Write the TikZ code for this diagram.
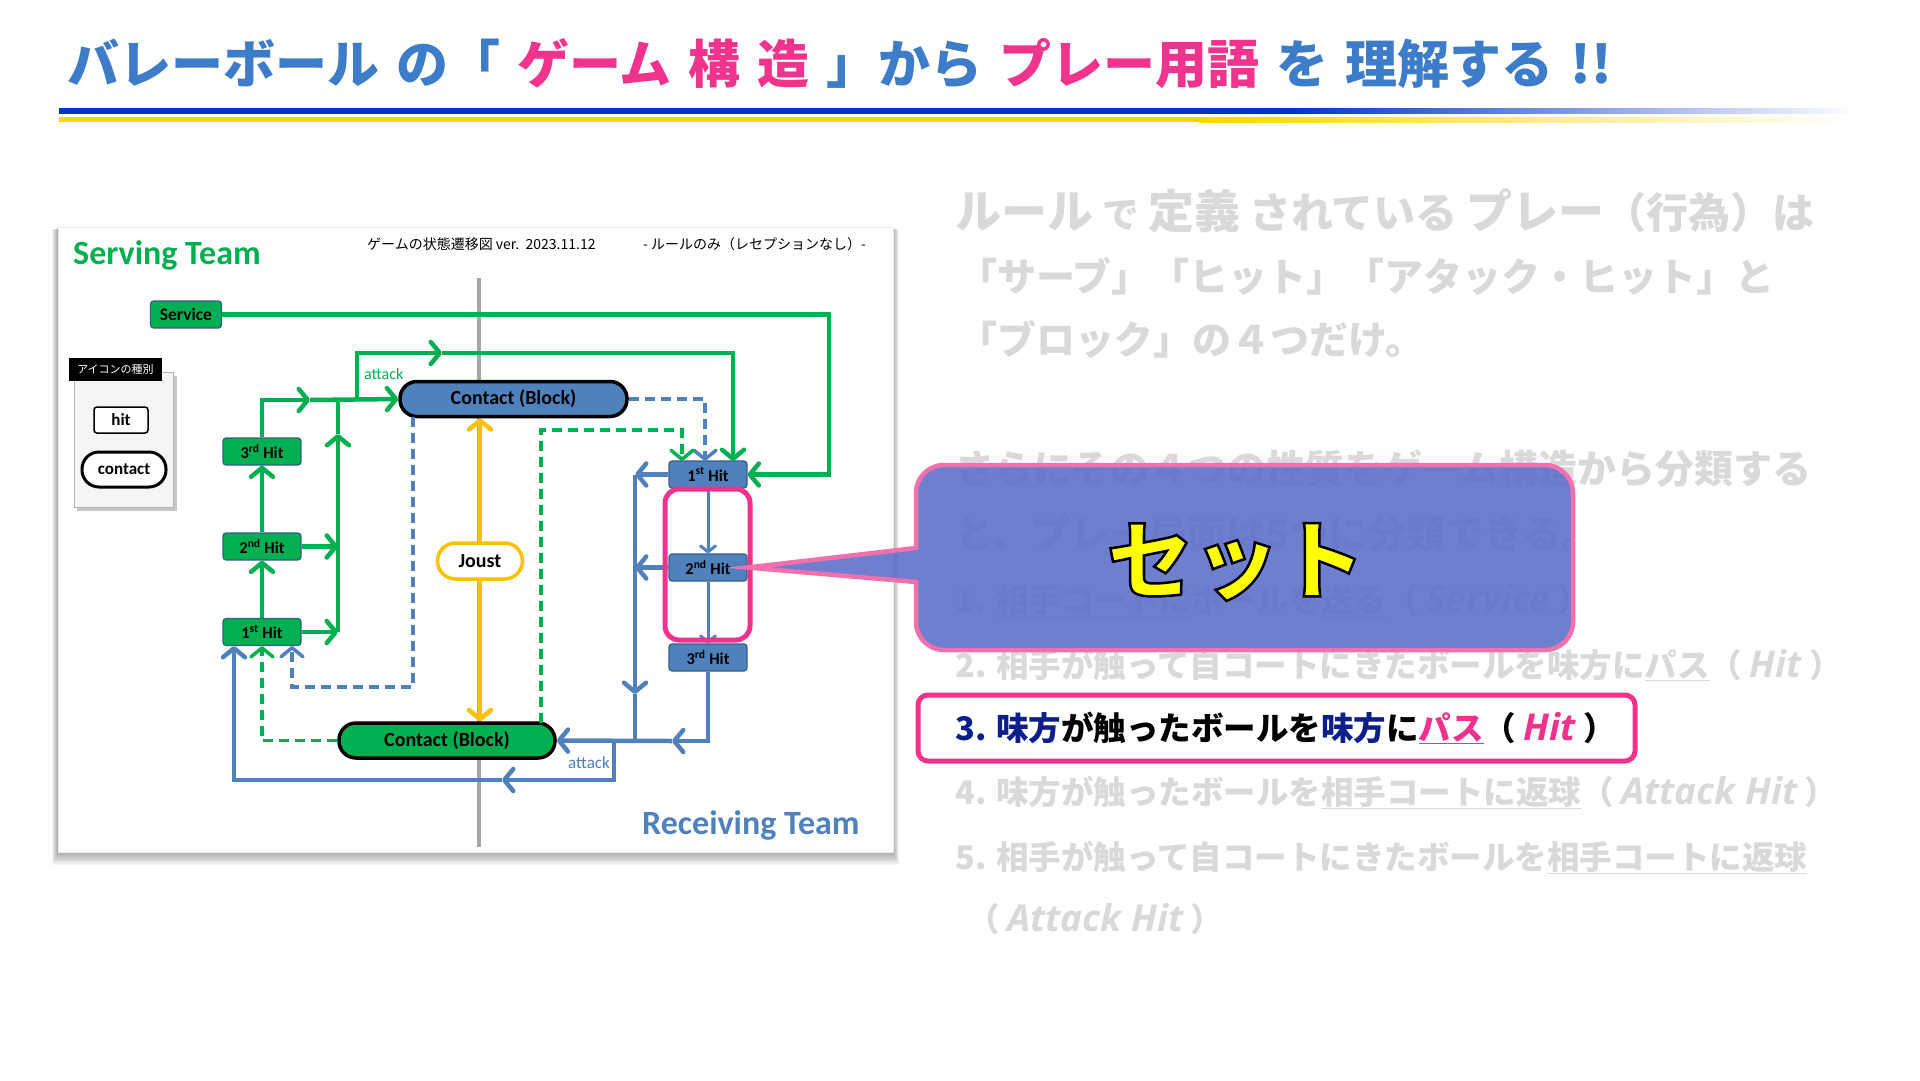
\documentclass[tikz,border=0pt]{standalone}
\usepackage{fontspec}
\usetikzlibrary{arrows.meta,calc}
\setmainfont{Carlito}
\newfontfamily\jpfont{Noto Sans CJK JP}
\newfontfamily\calfont{Carlito}
\newfontfamily\itfont{Open Sans}
\newcommand{\fsz}[1]{\fontsize{#1}{#1}\selectfont}
\newcommand{\lat}[1]{{\itfont\bfseries\itshape\fsz{37}#1}}
\definecolor{tblue}{RGB}{61,124,201}
\definecolor{tpink}{RGB}{240,51,140}
\definecolor{lblue}{RGB}{0,51,204}
\definecolor{lyel}{RGB}{255,214,0}
\definecolor{dgreen}{RGB}{0,176,80}
\definecolor{dblue}{RGB}{79,129,189}
\definecolor{dorange}{RGB}{255,192,0}
\definecolor{nodeb}{RGB}{56,93,138}
\definecolor{netgray}{RGB}{166,166,166}
\definecolor{txtgray}{RGB}{217,217,217}
\definecolor{cblue}{RGB}{88,106,200}
\definecolor{cpink}{RGB}{242,112,172}
\definecolor{hpink}{RGB}{240,50,140}
\definecolor{navy}{RGB}{10,30,140}
\definecolor{setyel}{RGB}{255,255,0}
\begin{document}
\begin{tikzpicture}[x=1pt,y=-1pt,
  >={Straight Barb[length=9pt,width=22pt,round]},
  gl/.style={draw=dgreen,line width=4.5pt},
  bl/.style={draw=dblue,line width=4.5pt},
  gdash/.style={draw=dgreen,line width=3.5pt,dash pattern=on 10pt off 6pt},
  bdash/.style={draw=dblue,line width=3.5pt,dash pattern=on 10pt off 6pt},
  bls/.style={draw=dblue,line width=3pt,>={Straight Barb[length=6pt,width=15pt,round]}},
  oline/.style={draw=dorange,line width=4.5pt},
  hitbox/.style={draw=nodeb,line width=1.2pt,rounded corners=3pt,minimum width=78pt,minimum height=27pt,inner sep=0pt,font=\calfont\bfseries\fsz{16.5}},
  hitg/.style={hitbox,fill=dgreen},
  hitb/.style={hitbox,fill=dblue},
  pill/.style={draw=black,line width=3.5pt,rounded corners=17pt,minimum height=35pt,inner sep=0pt,font=\calfont\bfseries\fsz{20}},
  gtxt/.style={anchor=base west,inner sep=0pt,text=txtgray,font=\jpfont\bfseries\fsz{32.5}},
]
\useasboundingbox (0,0) rectangle (1920,1080);
\fill[white] (0,0) rectangle (1920,1080);

% ---------- title ----------
\node[anchor=base west,inner sep=0pt,font=\jpfont\bfseries\fsz{52}] (title) at (67,83)
 {{\color{tblue}バレーボール\hspace{17pt}の「}\hspace{17pt}{\color{tpink}ゲーム\hspace{17pt}構\hspace{17pt}造}\hspace{17pt}{\color{tblue}」から}\hspace{17pt}{\color{tpink}プレー用語}\hspace{17pt}{\color{tblue}を\hspace{17pt}理解する\hspace{17pt}!!}};
\fill[lblue] (59,108) rectangle (1290,113.5);
\shade[left color=lblue,right color=white] (1289,108) rectangle (1855,113.5);
\fill[lyel] (59,117) rectangle (1200,122);
\shade[left color=lyel,right color=white] (1199,117) rectangle (1855,122);

% ---------- panel ----------
\foreach \i in {1,...,10}{
  \fill[black,opacity=0.035] ($(58,227)+(-\i*0.6,\i*0.3)$) rectangle ($(893,852)+(\i*0.6,\i*1.3)$);
}
\fill[white] (58,227) rectangle (893,852);
\draw[black!8,line width=0.8pt] (58,227) rectangle (893,852);

\coordinate (net1) at (479,278);
\coordinate (net2) at (479,847);
\draw[netgray,line width=4pt] (net1) -- (net2);

\node[anchor=base west,inner sep=0pt,text=dgreen,font=\calfont\bfseries\fsz{34}] (serving) at (73,264) {Serving Team};
\node[anchor=base west,inner sep=0pt,text=dblue,font=\calfont\bfseries\fsz{34}] (receiving) at (642,834) {Receiving Team};
\node[anchor=west,inner sep=0pt,font=\jpfont\fsz{14}] (hdr1) at (367,244) {ゲームの状態遷移図 ver.\ \ 2023.11.12};
\node[anchor=west,inner sep=0pt,font=\jpfont\fsz{14}] (hdr2) at (643,244) {- ルールのみ（レセプションなし）-};

% legend
\fill[black!22] (77,376) rectangle (177,511);
\draw[fill=black!4,draw=black!30,line width=1pt] (74,372) rectangle (173,507);
\node[fill=black,text=white,inner sep=0pt,minimum width=93pt,minimum height=23pt,font=\jpfont\fsz{11}] (lgl) at (115.5,369.5) {アイコンの種別};
\node[draw=black,line width=1.5pt,fill=white,rounded corners=3pt,minimum width=54pt,minimum height=26pt,inner sep=0pt,font=\calfont\bfseries\fsz{17}] (lh) at (121,420) {hit};
\node[draw=black,line width=3pt,fill=white,rounded corners=17pt,minimum width=84pt,minimum height=35pt,inner sep=0pt,font=\calfont\bfseries\fsz{17}] (lc) at (124,469.5) {contact};

% nodes
\node[hitg,minimum width=71pt,font=\calfont\bfseries\fsz{17.5}] (svc) at (186,314.5) {Service};
\node[hitg] (L3) at (262,451.5) {3\textsuperscript{rd} Hit};
\node[hitg] (L2) at (262,546.5) {2\textsuperscript{nd} Hit};
\node[hitg] (L1) at (262,632) {1\textsuperscript{st} Hit};
\node[hitb] (R1) at (708,474.5) {1\textsuperscript{st} Hit};
\node[hitb] (R2) at (708,567.5) {2\textsuperscript{nd} Hit};
\node[hitb] (R3) at (708,657.5) {3\textsuperscript{rd} Hit};
\node[pill,fill=dblue,minimum width=227pt] (CT) at (513.5,399) {Contact (Block)};
\node[pill,fill=dgreen,minimum width=216pt] (CB) at (447,740.5) {Contact (Block)};
\node[draw=dorange,line width=3.5pt,fill=white,rounded corners=18pt,minimum width=85pt,minimum height=36pt,inner sep=0pt,font=\calfont\bfseries\fsz{20}] (J) at (480,561) {Joust};

% coordinates
\coordinate (s2) at (829,474.5);
\coordinate (c4) at (262,400);
\coordinate (m4) at (310,400);
\coordinate (j1) at (338,400);
\coordinate (j1b) at (338,632);
\coordinate (m6) at (338,434);
\coordinate (a0) at (357,400);
\coordinate (a1) at (357,353);
\coordinate (ma) at (442,353);
\coordinate (a3) at (733,461);
\coordinate (b3) at (705,461);
\coordinate (g0) at (541,723);
\coordinate (g1) at (682,430);
\coordinate (g2) at (682,461);
\coordinate (d0) at (413,417);
\coordinate (d1) at (292,687);
\coordinate (d2) at (292,646);
\coordinate (r1) at (635,474.5);
\coordinate (mr) at (635,694);
\coordinate (r4) at (635,741);
\coordinate (m16) at (672,741);
\coordinate (t0) at (614,741);
\coordinate (mt) at (502,780);
\coordinate (t2) at (234,646);

% green connectors
\draw[gl,->] (svc.east) -| (s2) -- (R1.east);
\draw[gl,->] (L1.north) -- (L2.south);
\draw[gl,->] (L2.north) -- (L3.south);
\draw[gl,->] (L3.north) -- (c4) -- (m4);
\draw[gl,->] (m4) -- (CT.west);
\draw[gl,->] (L2.east) -- (L2.east -| j1);
\draw[gl,->] (L1.east) -- (j1b);
\draw[gl,->] (j1b) -- (m6);
\draw[gl] (m6) -- (j1);
\draw[gl,->] (a0) -- (a1) -- (ma);
\draw[gl,->] (ma) -| (a3);
\node[anchor=base west,inner sep=0pt,text=dgreen,font=\calfont\fsz{16}] (attg) at (364,379) {attack};

% dashed connectors
\draw[bdash,->] (CT.east) -| (b3);
\draw[gdash,->] (g0) |- (g1) -- (g2);
\draw[bdash,->] (d0) |- (d1) -- (d2);
\draw[gdash,->] (CB.west) -| (L1.south);

% joust
\draw[oline,->] (J.north) -- (CT.south -| J.north);
\draw[oline,->] (J.south) -- (CB.north -| J.south);

% blue connectors
\draw[bl,->] (R1.west) -- (r1);
\draw[bl,->] (r1) -- (mr);
\draw[bl] (mr) -- (r4);
\draw[bl,->] (R2.west) -- (R2.west -| r1);
\draw[bls,->] (R1.south) -- (R2.north);
\draw[bls,->] (R2.south) -- (R3.north);
\draw[bl,->] (R3.south) |- (m16);
\draw[bl,->] (m16) -- (CB.east);
\draw[bl,->] (t0) |- (mt);
\draw[bl,->] (mt) -| (t2);
\node[anchor=base west,inner sep=0pt,text=dblue,font=\calfont\fsz{17}] (attb) at (568,768) {attack};

% pink mark
\draw[hpink,line width=5pt,rounded corners=14pt] (665,489) rectangle (750,640);

% ---------- right texts ----------
\node[gtxt,font=\jpfont\bfseries\fsz{46}] (t1) at (955,228)
 {ルール\hspace{9pt}{\fsz{37}で}\hspace{9pt}定義\hspace{9pt}{\fsz{42}されている}\hspace{9pt}プレー{\fsz{42}（行為）は}};
\node[gtxt,font=\jpfont\bfseries\fsz{39}] (t2l) at (958,291) {「サーブ」「ヒット」「アタック・ヒット」と};
\node[gtxt,font=\jpfont\bfseries\fsz{39}] (t3) at (958,354) {「ブロック」の４つだけ。};
\node[gtxt,font=\jpfont\bfseries\fsz{39}] (l4) at (955,483) {さらにその４つの性質をゲーム構造から分類する};
\node[gtxt,font=\jpfont\bfseries\fsz{39}] (l5) at (955,548) {と、プレー局面は5つに分類できる。};
\node[gtxt] (l6) at (955,612) {1. \underline{相手コートに}ボールを\underline{送る}（ \lat{Service} ）};
\node[gtxt] (l7) at (955,677) {2. 相手が触って自コートにきたボールを味方に\underline{パス}（ \lat{Hit} ）};
\node[gtxt] (l9) at (955,804) {4. 味方が触ったボールを\underline{相手コートに返球}（ \lat{Attack Hit} ）};
\node[gtxt] (l10) at (955,869) {5. 相手が触って自コートにきたボールを\underline{相手コートに返球}};
\node[gtxt] (l11) at (967,931) {（ \lat{Attack Hit} ）};

% highlight
\draw[hpink,fill=white,line width=5pt,rounded corners=10pt] (918,695) rectangle (1635,761);
\node[anchor=base west,inner sep=0pt,font=\jpfont\bfseries\fsz{32.5}] (l8) at (955,740)
 {{\color{navy}3. 味方}が触ったボールを{\color{navy}味方}に{\color{hpink}\underline{パス}}（ {\color{hpink}\lat{Hit}} ）};

% callout
\draw[fill=cblue,fill opacity=0.86,draw=cpink,line width=4.5pt]
  (916,548) [rounded corners=28pt] -- (916,465) -- (1573,465) -- (1573,650) -- (916,650) [sharp corners] -- (916,582) -- (R2.east) -- cycle;
\node[inner sep=0pt,font=\jpfont\bfseries\fsz{86}] (set) at (1236,562)
 {\color{setyel}\special{pdf:literal direct 0 0 0 RG 2.5 w 2 Tr}セット\special{pdf:literal direct 0 Tr}};
\end{tikzpicture}
\end{document}
